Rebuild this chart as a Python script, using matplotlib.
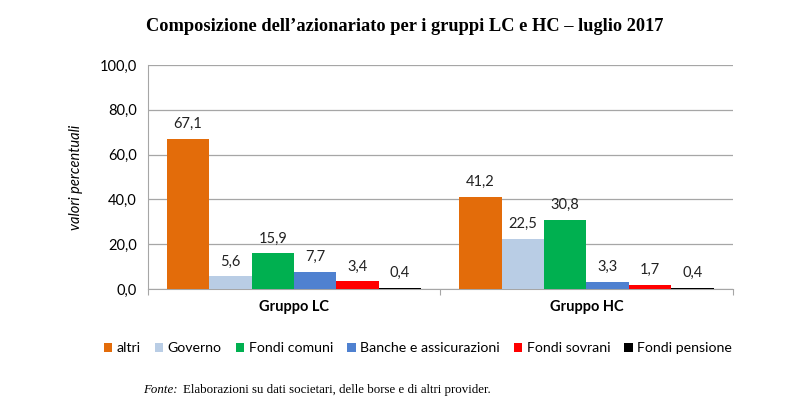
import numpy as np
import matplotlib.pyplot as plt

# Data
groups = ['Gruppo LC', 'Gruppo HC']
series = ['altri', 'Governo', 'Fondi comuni', 'Banche e assicurazioni',
          'Fondi sovrani', 'Fondi pensione']
values_lc = [67.1, 5.6, 15.9, 7.7, 3.4, 0.4]
values_hc = [41.2, 22.5, 30.8, 3.3, 1.7, 0.4]
colors = ['#E36C0A', '#B9CDE5', '#00B050', '#4F81D0', '#FF0000', '#000000']

sans = ['Lato', 'DejaVu Sans']
serif = ['Liberation Serif', 'DejaVu Serif']

fig = plt.figure(figsize=(7.99, 3.97), dpi=100)
ax = fig.add_axes([0.185, 0.272, 0.732, 0.564])

x = np.arange(len(groups))
w = 0.145
for i, name in enumerate(series):
    vals = [values_lc[i], values_hc[i]]
    pos = x + (i - 2.5) * w
    ax.bar(pos, vals, width=w, color=colors[i], label=name, zorder=3)
    for p, v in zip(pos, vals):
        ax.text(p, v + 3.5, ('%.1f' % v).replace('.', ','), ha='center',
                va='bottom', fontsize=10.5, family=sans, color='#222222')

ax.set_xlim(-0.5, 1.5)
ax.set_ylim(0, 100)
ax.set_yticks(np.arange(0, 101, 20))
ax.set_yticklabels([('%.1f' % t).replace('.', ',') for t in np.arange(0, 101, 20)],
                   fontsize=10.5, family=sans)
ax.yaxis.grid(True, color='#A6A6A6', linewidth=0.9, zorder=0)
ax.tick_params(axis='y', length=0, pad=8)

# category boundary ticks
ax.set_xticks([-0.5, 0.5, 1.5])
ax.set_xticklabels(['', '', ''])
ax.tick_params(axis='x', length=4, color='#A6A6A6', direction='out')
ax.set_xticks(x, minor=True)
ax.set_xticklabels(groups, minor=True, fontsize=10.5, fontweight='bold', family=sans)
ax.tick_params(axis='x', which='minor', length=0, pad=8)

for s in ['top', 'right']:
    ax.spines[s].set_visible(False)
ax.spines['left'].set_color('#A6A6A6')
ax.spines['bottom'].set_color('#A6A6A6')

ax.set_ylabel('valori percentuali', fontsize=10.5, style='italic', family=sans,
              labelpad=12)

fig.text(0.507, 0.932, "Composizione dell\u2019azionariato per i gruppi LC e HC \u2013 luglio 2017",
         ha='center', va='center', fontsize=13.2, fontweight='bold', family=serif)

fig.legend(loc='center', bbox_to_anchor=(0.523, 0.123), ncol=6, frameon=False,
           handlelength=0.6, handleheight=0.6, handletextpad=0.3,
           columnspacing=1.0, prop={'family': sans, 'size': 10.2})

fig.text(0.179, 0.018, 'Fonte:', ha='left', va='center', fontsize=9.3,
         style='italic', family=serif)
fig.text(0.229, 0.018, 'Elaborazioni su dati societari, delle borse e di altri provider.',
         ha='left', va='center', fontsize=9.3, family=serif)

fig.savefig('out.png', dpi=100)
